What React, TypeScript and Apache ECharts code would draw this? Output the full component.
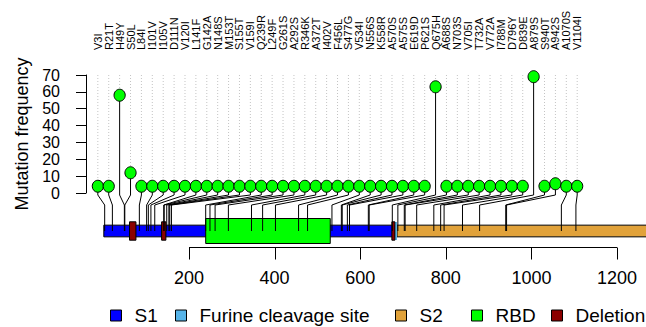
import React, { useEffect, useRef } from "react";
import * as echarts from "echarts";

// ---- data ----
const MUTATIONS = [
  "V3I", "R21T", "H49Y", "S50L", "L84I", "I101V", "I105V", "D111N", "V120I", "L141F",
  "G142A", "N148S", "M153T", "S155T", "V159I", "Q239R", "L249F", "G261S", "A292S", "R346K",
  "A372T", "I402V", "F456L", "S477G", "V534I", "N556S", "K558R", "A570S", "A575S", "E619D",
  "P621S", "Q675H", "A688S", "N703S", "V705I", "T732A", "V772A", "I788M", "D796Y", "D839E",
  "A879S", "S940T", "A942S", "A1070S", "V1104I",
];
const POSITIONS = [
  3, 21, 49, 50, 84, 101, 105, 111, 120, 141,
  142, 148, 153, 155, 159, 239, 249, 261, 292, 346,
  372, 402, 456, 477, 534, 556, 558, 570, 575, 619,
  621, 675, 688, 703, 705, 732, 772, 788, 796, 839,
  879, 940, 942, 1070, 1104,
];
const FREQUENCY = [
  4, 4, 58, 12, 4, 4, 4, 4, 4, 4,
  4, 4, 4, 4, 4, 4, 4, 4, 4, 4,
  4, 4, 4, 4, 4, 4, 4, 4, 4, 4,
  4, 63, 4, 4, 4, 4, 4, 4, 4, 4,
  69, 4, 5.5, 4, 4,
];
const Y_TICKS = [0, 70, 10]; // min, max, step
const X_TICKS = [200, 400, 600, 800, 1000, 1200];

const DOMAIN_NAMES = ["S1", "Furine cleavage site", "S2", "RBD", "Deletion"];
// track segments: kind index into DOMAIN_NAMES, start, end (residues)
const SEG_KIND = [0, 2, 3, 1, 4, 4, 4];
const SEG_START = [1, 686, 239, 681, 61, 136, 674];
const SEG_END = [681, 1273, 530, 686, 76, 146, 681];

// ---- styles / layout ----
const DOMAIN_COLORS = ["#0000FF", "#56B4E9", "#E1A23A", "#00FF00", "#8B0000"];
const DOMAIN_HALF = [5.85, 9, 5.85, 12.5, 9.2];
const DOMAIN_STROKE = [true, false, true, true, true];
const LEGEND_LEFT = [110, 175, 395, 471, 551];
const LOLLI_FIRST = -13;
const LOLLI_LAST = 1107;
const TRACK_OFFSET = 38; // px below zero line
const AXIS_OFFSET = 54; // px below zero line
const TICK_LEN = 12;
const FONT = "'Liberation Sans', Arial, Helvetica, sans-serif";

const N = MUTATIONS.length;
const lolliX = (i: number) => LOLLI_FIRST + (i * (LOLLI_LAST - LOLLI_FIRST)) / (N - 1);
const X_MIN = X_TICKS[0];
const X_MAX = X_TICKS[X_TICKS.length - 1];
const X_STEP = X_TICKS[1] - X_TICKS[0];

export default function App() {
  const ref = useRef<HTMLDivElement>(null);
  useEffect(() => {
    if (!ref.current) return;
    const chart = echarts.init(ref.current, null, { renderer: "svg" });

    const mutData = POSITIONS.map((p, i) => [p, FREQUENCY[i], i]);
    const segData = SEG_KIND.map((k, i) => [SEG_START[i], SEG_END[i], k]);

    const legendSeries = DOMAIN_NAMES.map((name, k) => ({
      type: "custom",
      name,
      data: [],
      renderItem: () => null,
      itemStyle: { color: DOMAIN_COLORS[k], borderColor: "#000", borderWidth: 1 },
    }));

    chart.setOption({
      animation: false,
      textStyle: { fontFamily: FONT, color: "#000" },
      grid: { left: 189, right: 29, top: 75, bottom: 134, containLabel: false },
      xAxis: {
        type: "value",
        min: X_MIN,
        max: X_MAX,
        interval: X_STEP,
        position: "bottom",
        offset: AXIS_OFFSET,
        axisLine: { show: false },
        axisTick: { show: false },
        axisLabel: {
          show: true,
          fontSize: 18,
          margin: 22,
          color: "#000",
          fontFamily: FONT,
          formatter: (v: number) => String(v),
        },
        splitLine: { show: false },
      },
      yAxis: {
        type: "value",
        min: Y_TICKS[0],
        max: Y_TICKS[1],
        interval: Y_TICKS[2],
        offset: 103,
        name: "Mutation frequency",
        nameLocation: "middle",
        nameGap: 55,
        nameTextStyle: { fontSize: 18, color: "#000", fontFamily: FONT },
        axisLine: { show: true, lineStyle: { color: "#000", width: 1 } },
        axisTick: { show: true, length: 10, lineStyle: { color: "#000", width: 1 } },
        axisLabel: { fontSize: 16, margin: 26, color: "#000", fontFamily: FONT },
        splitLine: { show: false },
      },
      legend: DOMAIN_NAMES.map((name, k) => ({
        data: [
          {
            name,
            icon: "rect",
            itemStyle: { color: DOMAIN_COLORS[k], borderColor: "#000", borderWidth: 1 },
          },
        ],
        left: LEGEND_LEFT[k],
        top: 306,
        padding: 0,
        itemWidth: 11,
        itemHeight: 11,
        selectedMode: false,
        textStyle: { fontSize: 19, color: "#000", fontFamily: FONT, padding: [0, 0, 0, 8] },
      })),
      series: [
        ...legendSeries,
        {
          type: "custom",
          name: "track",
          clip: false,
          silent: true,
          data: segData,
          renderItem: (params: any, api: any) => {
            const s = api.value(0);
            const e = api.value(1);
            const k = api.value(2);
            const p0 = api.coord([s, 0]);
            const p1 = api.coord([e, 0]);
            const cy = p0[1] + TRACK_OFFSET;
            const h = DOMAIN_HALF[k];
            return {
              type: "rect",
              shape: { x: p0[0], y: cy - h, width: p1[0] - p0[0], height: 2 * h },
              style: {
                fill: DOMAIN_COLORS[k],
                stroke: DOMAIN_STROKE[k] ? "#000" : null,
                lineWidth: 1,
              },
            };
          },
        },
        {
          type: "custom",
          name: "stems",
          clip: false,
          silent: true,
          data: mutData,
          renderItem: (params: any, api: any) => {
            const pos = api.value(0);
            const v = api.value(1);
            const i = api.value(2);
            const xi = lolliX(i);
            const top = api.coord([xi, v]);
            const yTop = api.coord([xi, Y_TICKS[1]])[1];
            const y0 = api.coord([xi, 0])[1];
            const px = api.coord([pos, 0])[0];
            return {
              type: "group",
              children: [
                {
                  type: "line",
                  shape: { x1: top[0], y1: yTop, x2: top[0], y2: top[1] - 6 },
                  style: { stroke: "#C4C4C4", lineWidth: 1, lineDash: [1, 2] },
                },
                {
                  type: "polyline",
                  shape: {
                    points: [
                      [top[0], top[1]],
                      [top[0], y0 + 2],
                      [px, y0 + 12],
                      [px, y0 + TRACK_OFFSET],
                    ],
                  },
                  style: { stroke: "#000", lineWidth: 1, fill: null },
                },
              ],
            };
          },
        },
        {
          type: "custom",
          name: "heads",
          clip: false,
          silent: true,
          data: mutData,
          renderItem: (params: any, api: any) => {
            const v = api.value(1);
            const i = api.value(2);
            const xi = lolliX(i);
            const top = api.coord([xi, v]);
            const yTop = api.coord([xi, Y_TICKS[1]])[1];
            return {
              type: "group",
              children: [
                {
                  type: "ellipse",
                  shape: { cx: top[0], cy: top[1], rx: 5.6, ry: 6 },
                  style: { fill: "#00FF00", stroke: "#000", lineWidth: 1 },
                },
                {
                  type: "text",
                  x: top[0],
                  y: yTop - 25,
                  rotation: Math.PI / 2,
                  style: {
                    text: MUTATIONS[i],
                    fontSize: 11,
                    fontFamily: FONT,
                    fill: "#000",
                    align: "left",
                    verticalAlign: "middle",
                  },
                },
              ],
            };
          },
        },
      ],
    });

    // bottom position axis: line and ticks placed through the chart's own scale
    const y0 = chart.convertToPixel({ yAxisIndex: 0 }, 0) as number;
    const ya = Math.round(y0 + AXIS_OFFSET) + 0.5;
    const xa = chart.convertToPixel({ xAxisIndex: 0 }, X_MIN) as number;
    const xb = chart.convertToPixel({ xAxisIndex: 0 }, X_MAX) as number;
    const axisEls: any[] = [
      {
        type: "line",
        z: 100,
        silent: true,
        shape: { x1: xa, y1: ya, x2: xb, y2: ya },
        style: { stroke: "#000", lineWidth: 1 },
      },
      ...X_TICKS.map((t) => {
        const xt = Math.round(chart.convertToPixel({ xAxisIndex: 0 }, t) as number) + 0.5;
        return {
          type: "line",
          z: 100,
          silent: true,
          shape: { x1: xt, y1: ya, x2: xt, y2: ya + TICK_LEN },
          style: { stroke: "#000", lineWidth: 1 },
        };
      }),
    ];
    chart.setOption({ graphic: { elements: axisEls } });

    return () => chart.dispose();
  }, []);
  return (
    <div
      ref={ref}
      style={{ position: "fixed", left: 0, top: 0, width: 646, height: 327, background: "#fff" }}
    />
  );
}
